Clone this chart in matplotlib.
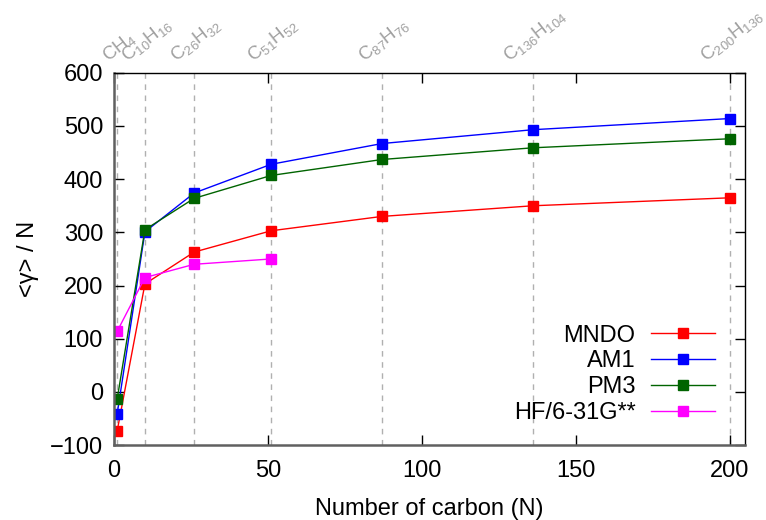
import matplotlib
matplotlib.use("Agg")
import matplotlib.pyplot as plt
import matplotlib.transforms as mtransforms

plt.rcParams['font.family'] = ['Liberation Sans', 'DejaVu Sans']
plt.rcParams['mathtext.fontset'] = 'custom'
plt.rcParams['mathtext.rm'] = 'Liberation Sans'
plt.rcParams['font.size'] = 17

# Number of carbon atoms for each polyene
n_carbon = [1, 10, 26, 51, 87, 136, 200]
molecules = ['CH_4', 'C_{10}H_{16}', 'C_{26}H_{32}', 'C_{51}H_{52}',
             'C_{87}H_{76}', 'C_{136}H_{104}', 'C_{200}H_{136}']

# <gamma>/N per method
mndo = [-73, 203, 263, 303, 330, 350, 365]
am1 = [-41, 301, 374, 428, 467, 493, 514]
pm3 = [-13, 305, 364, 407, 437, 459, 476]
hf_n = [1, 10, 26, 51]
hf = [114, 215, 240, 250]

fig = plt.figure(figsize=(7.66, 5.2), dpi=100)
ax = fig.add_axes([0.149, 0.144, 0.824, 0.716])

for x in n_carbon:
    ax.axvline(x, color='#b0b0b0', lw=1, ls=(0, (4, 4)), zorder=0)

mk = dict(marker='s', markersize=7, lw=1)
ax.plot(n_carbon, mndo, color='#ff0000', label='MNDO', **mk)
ax.plot(n_carbon, am1, color='#0000ff', label='AM1', **mk)
ax.plot(n_carbon, pm3, color='#006400', label='PM3', **mk)
ax.plot(hf_n, hf, color='#ff00ff', label='HF/6-31G**', **mk)

ax.set_xlim(0, 205)
ax.set_ylim(-100, 600)
ax.set_xticks([0, 50, 100, 150, 200])
ax.set_yticks(range(-100, 601, 100))
ax.set_yticklabels(['\u2212100' if v == -100 else str(v) for v in range(-100, 601, 100)])
ax.tick_params(direction='in', length=7, width=1, top=True, right=True, labelsize=17)
ax.tick_params(axis='y', pad=8)
ax.tick_params(axis='x', pad=11)
for side in ['top', 'right']:
    ax.spines[side].set_linewidth(1)
for side in ['bottom', 'left']:
    ax.spines[side].set_linewidth(1.8)
    ax.spines[side].set_color('#606060')

ax.set_xlabel('Number of carbon (N)', fontsize=17, labelpad=11)
ax.set_ylabel('<\u03b3> / N', fontsize=17, labelpad=8)

# molecule names along the top
offset = mtransforms.offset_copy(ax.get_xaxis_transform(), fig=fig, x=2, y=7, units='dots')
for x, name in zip(n_carbon, molecules):
    ax.text(x, 1, r'$\mathregular{' + name + '}$', transform=offset, rotation=38,
            ha='center', va='bottom', color='#a0a0a0', fontsize=13.5)

ax.legend(loc='lower right', frameon=False, markerfirst=False, numpoints=1,
          handlelength=2.7, handletextpad=0.65, labelspacing=0.16,
          borderaxespad=0.5, fontsize=17, bbox_to_anchor=(0.985, 0.0))

fig.savefig('out.png', dpi=100)
